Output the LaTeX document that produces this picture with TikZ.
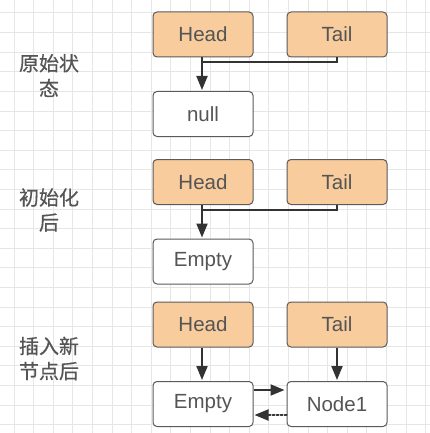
\documentclass[tikz,border=0pt]{standalone}
\usepackage{fontspec}
\setmainfont{Liberation Sans}
\newfontfamily\cjk[FakeBold=0.5]{Noto Sans CJK SC}
\usetikzlibrary{arrows.meta}
\definecolor{peach}{HTML}{F8CC9C}
\definecolor{bordergray}{HTML}{5A5A5A}
\definecolor{txtgray}{HTML}{555555}
\definecolor{gridgray}{HTML}{E6E6E6}
\definecolor{linedark}{HTML}{333333}
\tikzset{
  box/.style={draw=bordergray, line width=1pt, rounded corners=4pt, minimum width=100pt, minimum height=45pt, inner sep=0pt, text=txtgray, font=\fontsize{20.5}{22}\selectfont},
  ptr/.style={box, fill=peach},
  cell/.style={box, fill=white},
  lbl/.style={align=center, text=txtgray, font=\cjk\fontsize{20}{25}\selectfont},
  conn/.style={draw=linedark, line width=2pt, shorten >=1pt, -{Triangle[length=14pt,width=11pt]}},
}
\begin{document}
\begin{tikzpicture}[x=1pt,y=-1pt]
\useasboundingbox (0,0) rectangle (430,433);
\fill[white] (0,0) rectangle (430,433);
\foreach \i in {0,...,21} {
  \draw[gridgray, line width=1pt] ({14+19.6*\i},0) -- ({14+19.6*\i},433);
  \draw[gridgray, line width=1pt] (0,{13+19.6*\i}) -- (430,{13+19.6*\i});
}
% labels
\node[lbl] (l1) at (49,75.5) {原始状\\态};
\node[lbl] (l2) at (49,210) {初始化\\后};
\node[lbl] (l3) at (49,358.5) {插入新\\节点后};
% row 1
\node[ptr] (h1) at (203,34.5) {Head};
\node[ptr] (t1) at (337,34.5) {Tail};
\node[cell] (n1) at (203,114) {null};
% row 2
\node[ptr] (h2) at (203,182) {Head};
\node[ptr] (t2) at (337,182) {Tail};
\node[cell] (e2) at (203,261.5) {Empty};
% row 3
\node[ptr] (h3) at (203,324.5) {Head};
\node[ptr] (t3) at (337,324.5) {Tail};
\node[cell] (e3) at (203,404) {Empty};
\node[cell] (d3) at (337,404) {Node1};
% connectors
\coordinate (j1) at (202,62);
\coordinate (j2) at (202,210);
\draw[conn] (h1.south -| j1) -- (n1.north -| j1);
\draw[draw=linedark, line width=2pt] (t1.south) -- (t1.south |- j1) -- (j1);
\draw[conn] (h2.south -| j2) -- (e2.north -| j2);
\draw[draw=linedark, line width=2pt] (t2.south) -- (t2.south |- j2) -- (j2);
\draw[conn] (h3.south -| j2) -- (e3.north -| j2);
\draw[conn] (t3.south) -- (d3.north);
\coordinate (a3) at (0,390);
\coordinate (b3) at (0,415);
\draw[conn, shorten >=2pt] (e3.east |- a3) -- (d3.west |- a3);
\draw[conn, dotted, line cap=round] (d3.west |- b3) -- (e3.east |- b3);
\end{tikzpicture}
\end{document}
